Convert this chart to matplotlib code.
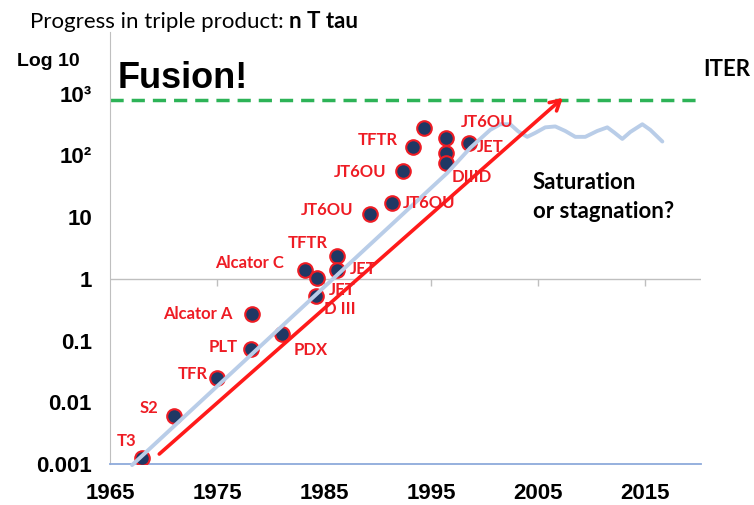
import matplotlib
matplotlib.use('Agg')
import matplotlib.pyplot as plt
import numpy as np

# dots: year, n T tau value, label, label offset in pixels (dx, dy)
years = [1968.0, 1971.0, 1975.0, 1978.2, 1978.3, 1981.1, 1983.2, 1984.35, 1984.25,
         1986.2, 1986.2, 1989.3, 1991.3, 1992.4, 1993.3, 1994.35, 1996.4, 1996.4,
         1996.4, 1998.5]
values = [0.00125, 0.006, 0.025, 0.073, 0.27, 0.128, 1.39, 1.03, 0.53,
          2.35, 1.39, 11.3, 17, 56, 137, 279, 192, 110, 75, 160]
names = ['T3', 'S2', 'TFR', 'PLT', 'Alcator A', 'PDX', 'Alcator C', 'JET', 'D III',
         'TFTR', 'JET', 'JT6OU', 'JT6OU', 'JT6OU', 'TFTR', '', 'JT6OU', '', 'DIIID', 'JET']
offsets = [(-16, 17), (-25, 8), (-24, 4), (-28, 2), (-55, 0), (28, -16), (-55, 7),
           (25, -12), (24, -13), (-29, 13), (26, 1), (-43, 4), (38, 0), (-43, -1),
           (-35, 7), (0, 0), (41, 16), (0, 0), (26, -14), (22, -4)]

# light blue trend curve
trend_years = [1967.06, 1996.5, 1998.64, 2000.51, 2001.45, 2002.38, 2003.13, 2003.97,
               2004.72, 2005.65, 2006.59, 2007.52, 2008.46, 2009.39, 2010.51, 2011.45,
               2012.1, 2012.85, 2013.6, 2014.72, 2015.47, 2016.59]
trend_values = [0.00096, 52, 132, 259, 320, 320, 245, 200, 232, 285, 295, 249, 200,
                200, 249, 285, 235, 185, 240, 320, 259, 168]

# red arrow
arrow_start = (1969.6, 0.00145)
arrow_end = (2007.3, 855)

fusion_level = 800
xticks = [1965, 1975, 1985, 1995, 2005, 2015]
yticks = [0.001, 0.01, 0.1, 1, 10, 100, 1000]
ytick_labels = ['0.001', '0.01', '0.1', '1', '10', '10²', '10³']

red = '#ee1c24'
W, H = 754, 505

fig = plt.figure(figsize=(W / 100, H / 100), dpi=100)
ax = fig.add_axes([110 / W, 1 - 464 / H, 591 / W, 432 / H])
ax.set_yscale('log')
ax.set_xlim(1965, 2020.2)
ax.set_ylim(1e-3, 1e4)

ax.spines['top'].set_visible(False)
ax.spines['right'].set_visible(False)
ax.spines['left'].set_color('#bfbfbf')
ax.spines['bottom'].set_color('#8eaadb')
ax.spines['bottom'].set_linewidth(1.3)

ax.set_xticks(xticks)
ax.set_xticklabels([str(t) for t in xticks], fontsize=16, fontweight='bold',
                   family='Liberation Sans')
ax.set_yticks(yticks)
ax.set_yticklabels(ytick_labels, fontsize=16, fontweight='bold', family='Liberation Sans')
ax.minorticks_off()
ax.tick_params(axis='x', length=0, pad=14)
ax.tick_params(axis='y', length=0, pad=13)

# gray line at 1 with small ticks
ax.axhline(1, color='#bfbfbf', lw=1, zorder=1)
ax.plot(xticks[1:], [1] * (len(xticks) - 1), ls='', marker=3, ms=5,
        color='#bfbfbf', mew=1, zorder=1)

ax.axhline(fusion_level, color='#2db357', lw=2.5, ls=(0, (3.8, 2.3)), zorder=2)

ax.scatter(years, values, s=110, color='#1f3864', edgecolors=red, linewidths=1.5,
           zorder=3)
ax.plot(trend_years, trend_values, color='#b9cde8', lw=2.8, zorder=4,
        solid_joinstyle='round', solid_capstyle='round', clip_on=False)
ax.annotate('', xy=arrow_end, xytext=arrow_start, zorder=5,
            arrowprops=dict(arrowstyle='->,head_length=0.7,head_width=0.4',
                            color='#ff1a1a', lw=2.6, shrinkA=0, shrinkB=0))

for x, y, name, off in zip(years, values, names, offsets):
    if name:
        ax.annotate(name, (x, y), xytext=off, textcoords='offset pixels',
                    ha='center', va='center', color=red, fontsize=12,
                    fontweight='bold', family='Lato', zorder=6)

# free text
title = fig.text(30 / W, 1 - 22 / H, 'Progress in triple product: ', family='Lato',
                 fontsize=16, va='center', ha='left')
ax.annotate('n T tau', xy=(1, 0), xycoords=title, va='bottom', ha='left',
            family='Lato', fontsize=16, fontweight='bold')
fig.text(48 / W, 1 - 62 / H, 'Log 10', family='Liberation Sans', fontweight='bold',
         fontsize=14, ha='center', va='center')
fig.text(118 / W, 1 - 78 / H, 'Fusion!', family='Liberation Sans', fontweight='bold',
         fontsize=26, ha='left', va='center')
fig.text(703 / W, 1 - 69 / H, 'ITER', family='Lato', fontweight='bold',
         fontsize=16, ha='left', va='center')
fig.text(533 / W, 1 - 197 / H, 'Saturation\nor stagnation?', family='Lato',
         fontweight='bold', fontsize=16, ha='left', va='center', linespacing=1.45)

fig.savefig('out.png', dpi=100)
